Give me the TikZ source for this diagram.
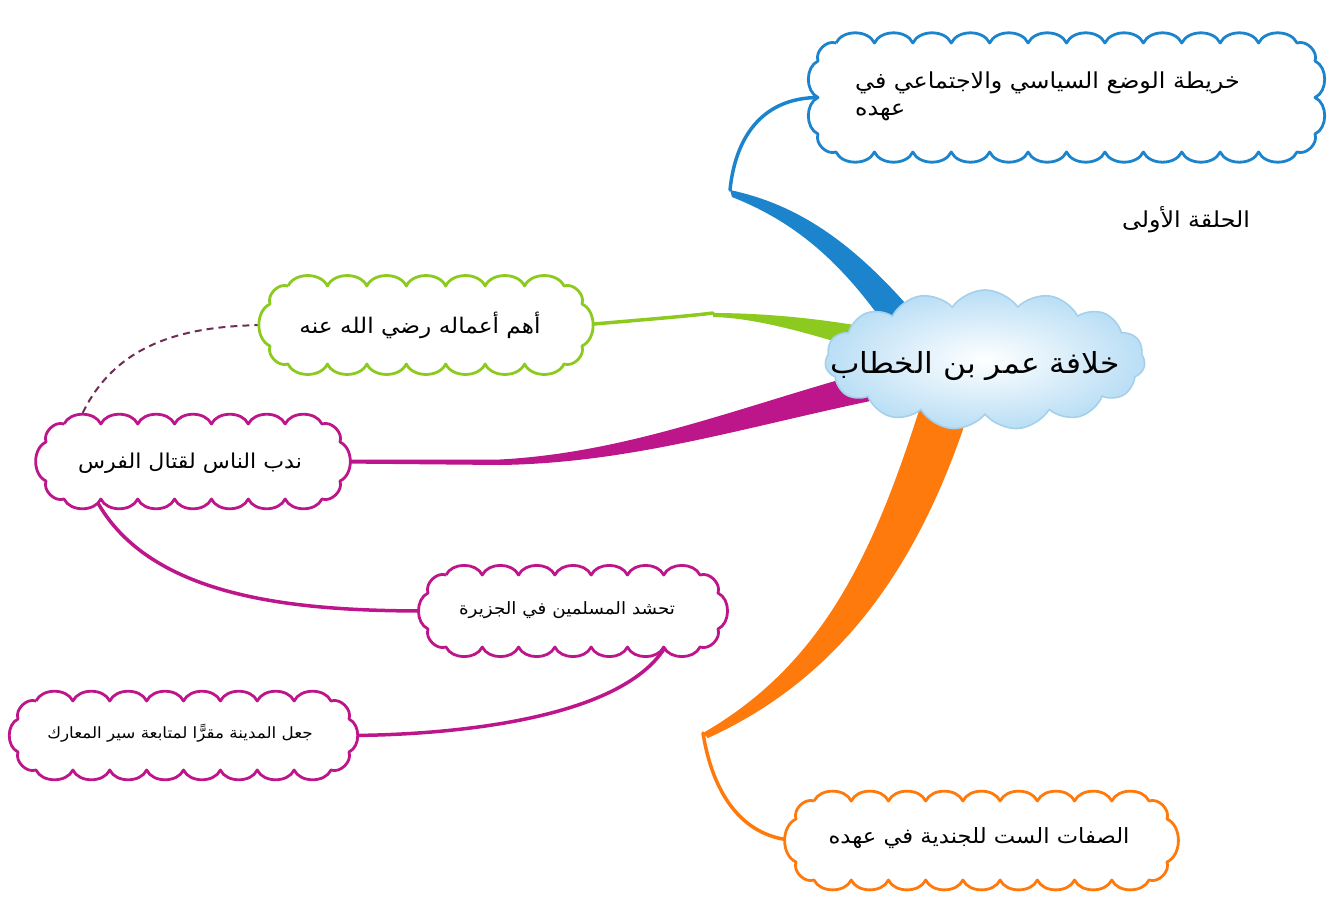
\documentclass[tikz,border=0pt]{standalone}
\usepackage{fontspec}
\usetikzlibrary{shapes.symbols,calc}
\TeXXeTstate=1
\newfontfamily\arabicfont[Script=Arabic,FakeStretch=1.08]{DejaVu Sans}
\definecolor{cblue}{RGB}{28,132,204}
\definecolor{cgreen}{RGB}{140,202,32}
\definecolor{cmag}{RGB}{188,22,138}
\definecolor{corange}{RGB}{255,122,12}
\definecolor{cdash}{RGB}{110,45,85}
\definecolor{cloudedge}{RGB}{165,208,236}
\definecolor{cloudfill}{RGB}{185,222,245}
\tikzset{
  scal/.style={line width=2.8pt, fill=white, line join=round},
  thinconn/.style={line width=3.5pt, line cap=round},
  txt/.style={inner sep=0pt, text=black},
}
\newcommand\scallopbox[7]{%
  \pgfmathsetmacro\sbc{18}%
  \pgfmathtruncatemacro\sbnh{max(1,round((#4-#2-2*\sbc)/#7))}%
  \pgfmathtruncatemacro\sbnv{max(1,round((#5-#3-2*\sbc)/#7))}%
  \pgfmathsetmacro\sbdh{(#4-#2-2*\sbc)/\sbnh}%
  \pgfmathsetmacro\sbdv{(#5-#3-2*\sbc)/\sbnv}%
  \draw[scal,draw=#6] (#2+\sbc,#3)
    \foreach \i in {1,...,\sbnh}{ to[bend left=65] ++(\sbdh,0) }
    to[bend left=65] ++(\sbc,\sbc)
    \foreach \i in {1,...,\sbnv}{ to[bend left=65] ++(0,\sbdv) }
    to[bend left=65] ++(-\sbc,\sbc)
    \foreach \i in {1,...,\sbnh}{ to[bend left=65] ++(-\sbdh,0) }
    to[bend left=65] ++(-\sbc,-\sbc)
    \foreach \i in {1,...,\sbnv}{ to[bend left=65] ++(0,-\sbdv) }
    to[bend left=65] ++(\sbc,-\sbc);
  \node[inner sep=0pt,minimum width={(#4-#2)*1pt},minimum height={(#5-#3)*1pt}] (#1) at ({(#2+#4)/2},{(#3+#5)/2}) {};
}
\begin{document}
\begin{tikzpicture}[x=1pt,y=-1pt]
\useasboundingbox (0,0) rectangle (1335,910);
% invisible placement nodes for boxes (drawn later)
\node[inner sep=0pt,minimum width=497pt,minimum height=109pt] (blue) at (1066.5,97.5) {};
\node[inner sep=0pt,minimum width=312pt,minimum height=78pt] (green) at (426,325) {};
\node[inner sep=0pt,minimum width=294pt,minimum height=75pt] (ndb) at (193,461.5) {};
\node[inner sep=0pt,minimum width=290pt,minimum height=72pt] (th) at (573,611) {};
\node[inner sep=0pt,minimum width=331pt,minimum height=69pt] (ja) at (183.5,735.5) {};
\node[inner sep=0pt,minimum width=371pt,minimum height=79pt] (orange) at (981.5,840.5) {};
\node[cloud, cloud puffs=15, cloud puff arc=110, cloud ignores aspect, minimum width=320pt, minimum height=140pt, inner sep=0pt] (center) at (985,360) {};
% kink coordinates
\coordinate (bk) at (730,190);
\coordinate (bk2) at (732,197);
\coordinate (gk) at (713,313);
\coordinate (gk2) at (713,317);
\coordinate (ok) at (703,733);
\coordinate (ok2) at (708,738);
% blue branch
\draw[thinconn, cblue] (blue.west) .. controls (760,98) and (735,140) .. (bk);
\fill[cblue] (bk) .. controls (800,205) and (862,245) .. (940,345) -- (905,355) .. controls (850,268) and (800,224) .. (bk2) -- cycle;
% green branch
\draw[thinconn, cgreen] (green.east) .. controls (640,320) and (690,316) .. (gk);
\fill[cgreen] (gk) .. controls (770,313) and (840,320) .. (905,335) -- (900,362) .. controls (820,336) and (760,318) .. (gk2) -- cycle;
% magenta main branch
\fill[cmag] ([yshift=2pt]ndb.east) -- (500,459.5) .. controls (640,452) and (760,398) .. (905,362) -- (905,394) .. controls (760,422) and (640,463) .. (500,465) -- ([yshift=-2pt]ndb.east) -- cycle;
% orange branch
\fill[corange] (930,375) .. controls (880,540) and (830,660) .. (ok) -- (ok2) .. controls (835,680) and (925,570) .. (980,375) -- cycle;
\draw[thinconn, corange] (ok) .. controls (712,790) and (740,838) .. (orange.west);
% magenta sub branches
\draw[thinconn, cmag] ([xshift=50pt]ndb.south west) .. controls (150,600) and (300,611) .. (th.west);
\draw[thinconn, cmag] ([xshift=-53pt]th.south east) .. controls (620,720) and (450,735) .. (ja.east);
% dashed link
\draw[cdash, line width=2pt, dash pattern=on 7pt off 5pt] ([xshift=32pt]ndb.north west) .. controls (110,345) and (180,325) .. (green.west);
% boxes
\scallopbox{blueb}{818}{43}{1315}{152}{cblue}{38}
\scallopbox{greenb}{270}{286}{582}{364}{cgreen}{38}
\scallopbox{ndbb}{46}{424}{340}{499}{cmag}{38}
\scallopbox{thb}{428}{575}{718}{647}{cmag}{38}
\scallopbox{jab}{18}{701}{349}{770}{cmag}{38}
\scallopbox{orangeb}{796}{801}{1167}{880}{corange}{38}
% central cloud
\node[cloud, cloud puffs=15, cloud puff arc=110, cloud ignores aspect, minimum width=320pt, minimum height=140pt, inner sep=0pt, draw=cloudedge, line width=1.6pt, inner color=white, outer color=cloudfill] (cloudshape) at (center) {};
% texts
\node[txt, anchor=west, align=left, font=\arabicfont\fontsize{22}{27}\selectfont] (tblue) at (855,96) {\beginR خريطة الوضع السياسي والاجتماعي في\endR\\\beginR عهده\endR};
\node[txt, font=\arabicfont\fontsize{22}{26}\selectfont] (tepisode) at (1186,220) {\beginR الحلقة الأولى\endR};
\node[txt, font=\arabicfont\fontsize{29}{34}\selectfont] (tcenter) at (975,366) {\beginR خلافة عمر بن الخطاب\endR};
\node[txt, font=\arabicfont\fontsize{21.5}{25}\selectfont] (tgreen) at (420,325) {\beginR أهم أعماله رضي الله عنه\endR};
\node[txt, font=\arabicfont\fontsize{20.5}{24}\selectfont] (tndb) at (190,463) {\beginR ندب الناس لقتال الفرس\endR};
\node[txt, font=\arabicfont\fontsize{17}{20}\selectfont] (tth) at (567,610) {\beginR تحشد المسلمين في الجزيرة\endR};
\node[txt, font=\arabicfont\fontsize{15.5}{18}\selectfont] (tja) at (180,733) {\beginR جعل المدينة مقرًّا لمتابعة سير المعارك\endR};
\node[txt, font=\arabicfont\fontsize{21}{24}\selectfont] (torange) at (979,838) {\beginR الصفات الست للجندية في عهده\endR};
\end{tikzpicture}
\end{document}
